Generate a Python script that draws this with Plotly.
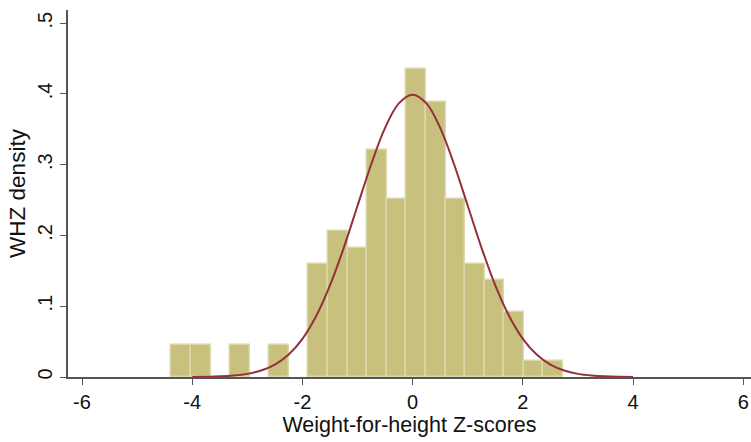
import plotly.graph_objects as go
import numpy as np

# Histogram bin edges (Weight-for-height Z-score) and density per bin
bin_edges = [-4.377, -4.022, -3.666, -3.311, -2.956, -2.600, -2.245, -1.890,
             -1.534, -1.179, -0.824, -0.468, -0.113, 0.242, 0.598, 0.953,
             1.308, 1.663, 2.019, 2.374, 2.729]
densities = [0.0458, 0.0458, 0.0, 0.0458, 0.0, 0.0458, 0.0, 0.160,
             0.206, 0.183, 0.321, 0.252, 0.435, 0.389, 0.252, 0.160,
             0.137, 0.092, 0.023, 0.023]

# Overlaid normal density curve
curve_x = [-4.0, -3.75, -3.5, -3.25, -3.0, -2.75, -2.5, -2.25, -2.0, -1.75,
           -1.5, -1.25, -1.0, -0.75, -0.5, -0.25, 0.0, 0.25, 0.5, 0.75,
           1.0, 1.25, 1.5, 1.75, 2.0, 2.25, 2.5, 2.75, 3.0, 3.25, 3.5, 3.75, 4.0]
curve_y = [0.0001, 0.0004, 0.0009, 0.0020, 0.0044, 0.0091, 0.0175, 0.0317,
           0.0540, 0.0863, 0.1295, 0.1826, 0.2420, 0.3011, 0.3521, 0.3867,
           0.3989, 0.3867, 0.3521, 0.3011, 0.2420, 0.1826, 0.1295, 0.0863,
           0.0540, 0.0317, 0.0175, 0.0091, 0.0044, 0.0020, 0.0009, 0.0004, 0.0001]

x_ticks = [-6, -4, -2, 0, 2, 4, 6]
x_ticklabels = ["-6", "-4", "-2", "0", "2", "4", "6"]
y_ticks = [0, 0.1, 0.2, 0.3, 0.4, 0.5]
y_ticklabels = ["0", ".1", ".2", ".3", ".4", ".5"]

edges = np.array(bin_edges)
centers = (edges[:-1] + edges[1:]) / 2
widths = np.diff(edges)
dens = np.array(densities)
mask = dens > 0

FONT = "Liberation Sans, Arial, sans-serif"

fig = go.Figure()
fig.add_trace(go.Bar(
    x=centers[mask], y=dens[mask], width=widths[mask],
    marker=dict(color="#C8C17E", line=dict(color="#DCD8A8", width=1.5)),
    hoverinfo="x+y", showlegend=False,
))
fig.add_trace(go.Scatter(
    x=curve_x, y=curve_y, mode="lines",
    line=dict(color="#93303B", width=2, shape="spline", smoothing=1.0),
    showlegend=False,
))

fig.update_layout(
    width=751, height=442,
    margin=dict(l=68, r=0, t=10, b=65, pad=0),
    paper_bgcolor="white", plot_bgcolor="white",
    font=dict(family=FONT, color="#111111", size=20),
    bargap=0,
    xaxis=dict(
        range=[-6.254, 6.14],
        tickvals=x_ticks, ticktext=x_ticklabels,
        ticks="outside", ticklen=6, tickwidth=1, tickcolor="#555555",
        showline=True, linecolor="#555555", linewidth=1.5,
        showgrid=False, zeroline=False,
        tickfont=dict(size=20),
        title=dict(text="Weight-for-height Z-scores", font=dict(size=21.5), standoff=0),
    ),
    yaxis=dict(
        range=[0, 0.5187],
        tickvals=y_ticks, ticktext=y_ticklabels,
        tickangle=-90,
        ticks="outside", ticklen=6, tickwidth=1, tickcolor="#555555",
        showline=True, linecolor="#555555", linewidth=1.5,
        showgrid=False, zeroline=False,
        tickfont=dict(size=20),
        title=dict(text="WHZ density", font=dict(size=22.5), standoff=2),
    ),
)

fig.write_html("out.html")
